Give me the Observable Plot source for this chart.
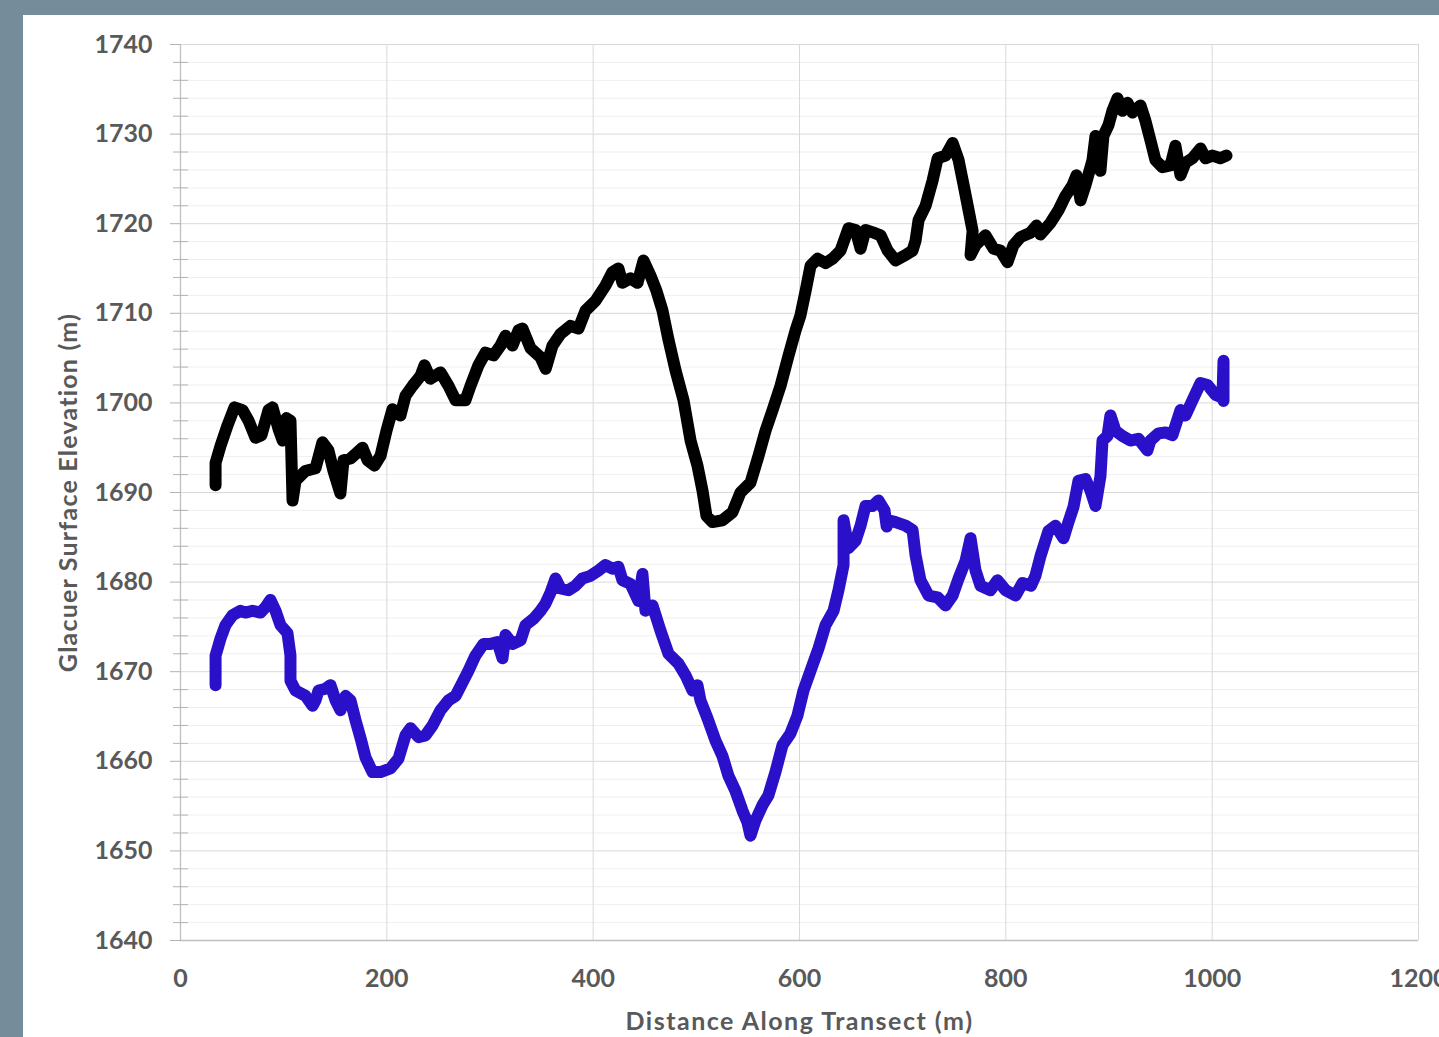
<!DOCTYPE html>
<html>
<head>
<meta charset="utf-8">
<script src="https://cdn.jsdelivr.net/npm/d3@7"></script>
<script src="https://cdn.jsdelivr.net/npm/@observablehq/plot@0.6"></script>
<style>
  html, body { margin: 0; padding: 0; width: 1439px; height: 1037px; overflow: hidden; background: #758d9a; }
  #panel { position: absolute; left: 23px; top: 15px; width: 1430px; height: 1040px; background: #ffffff; }
  #chart { position: absolute; left: 0; top: 0; }
</style>
</head>
<body>
<div id="panel"></div>
<div id="chart"></div>
<script>
// Upper profile (black): distance along transect (m) and surface elevation (m)
const upperDist = [34, 34, 38.8, 45.6, 52.3, 60.1, 66, 72.7, 78.5, 85.3, 89.2, 95, 99, 102.7, 106.6, 107.6, 108.6, 111.5, 121, 130.9,
  137.6, 143.4, 148.3, 155, 158, 164.8, 171.6, 176.4, 181.3, 188, 193.9, 199.7, 205.5, 213.2, 218.1, 224.9, 232.6, 236.5, 242.3, 252,
  259.8, 266.6, 276.2, 281.1, 288.8, 295.6, 303.4, 310.2, 315, 321.8, 327.6, 331.5, 339.3, 349, 354, 360.6, 368.4, 378, 385.8, 392.6,
  402.3, 412, 418.7, 424.5, 428.4, 436.2, 443, 448.8, 455.6, 461.4, 467.2, 473.1, 479.9, 487.6, 494.4, 501.1, 506, 509.8, 515.6, 525.3,
  535, 542.8, 552.5, 560.3, 567.1, 573.9, 581.6, 589.4, 596.2, 601, 605.9, 610.7, 617.5, 625.2, 632, 639.8, 647.5, 654.3, 659.2, 664,
  671.8, 678.6, 685.4, 693.1, 702.8, 709.6, 712.5, 715.4, 722.2, 729, 733.9, 741.6, 748.4, 754.2, 759.1, 763.9, 767.8, 765.8, 770.6, 780.3,
  788.1, 794.8, 801.6, 807.4, 814.2, 823.9, 829.7, 833.6, 843.3, 851, 857.8, 864.6, 868.5, 872.4, 877.2, 884, 886.9, 891.7, 894.6, 899.5,
  903.3, 908.2, 913, 917.9, 922.7, 930.5, 935.3, 940.2, 945, 951.8, 959.6, 964.4, 969.3, 974.1, 980.9, 988.7, 993.5, 1000.3, 1008, 1013.9];
const upperElev = [1690.8, 1693.3, 1695.2, 1697.5, 1699.5, 1699.2, 1698, 1696.1, 1696.4, 1699.2, 1699.5, 1697.1, 1695.8, 1698.3, 1698, 1693.6, 1689.1, 1691.3, 1692.4, 1692.7,
  1695.6, 1694.7, 1692.4, 1689.9, 1693.6, 1693.8, 1694.5, 1695.0, 1693.6, 1693.0, 1694.1, 1696.9, 1699.3, 1698.6, 1700.8, 1701.9, 1703.0, 1704.2, 1702.7, 1703.4,
  1701.9, 1700.3, 1700.3, 1701.9, 1704.2, 1705.6, 1705.3, 1706.4, 1707.5, 1706.4, 1708.1, 1708.3, 1706.1, 1705.1, 1703.8, 1706.4, 1707.7, 1708.6, 1708.3, 1710.3,
  1711.4, 1713.1, 1714.6, 1715.0, 1713.4, 1713.9, 1713.4, 1715.9, 1714.2, 1712.5, 1710.3, 1707.0, 1703.6, 1700.3, 1695.8, 1693.0, 1690.2, 1687.4, 1686.7, 1686.9,
  1687.8, 1690.0, 1691.1, 1694.1, 1696.9, 1699.2, 1701.9, 1705.3, 1708.1, 1709.8, 1712.5, 1715.3, 1716.1, 1715.6, 1716.1, 1717.0, 1719.5, 1719.3, 1717.2, 1719.3,
  1719.0, 1718.7, 1717.0, 1715.9, 1716.5, 1717.0, 1718.1, 1720.4, 1722.0, 1724.8, 1727.3, 1727.6, 1729.0, 1727.1, 1724.3, 1721.5, 1719.2, 1716.5, 1717.6, 1718.7,
  1717.2, 1717.0, 1715.7, 1717.6, 1718.5, 1719.0, 1719.8, 1718.8, 1720.1, 1721.5, 1723.1, 1724.3, 1725.4, 1722.6, 1724.3, 1727.1, 1729.8, 1725.9, 1729.8, 1731.0,
  1732.6, 1734.0, 1732.6, 1733.5, 1732.4, 1733.2, 1731.5, 1729.3, 1727.1, 1726.3, 1726.5, 1728.7, 1725.4, 1726.8, 1727.3, 1728.4, 1727.3, 1727.6, 1727.3, 1727.6];

// Lower profile (blue)
const lowerDist = [34, 34, 38.8, 43.6, 50.4, 58.2, 63, 69.8, 77.5, 82.4, 87.2, 92.1, 96.9, 103.7, 106.6, 106.6, 111.5, 121.2, 128, 130.9,
  133.8, 140.6, 145.4, 150.3, 155.1, 160, 164.8, 169.6, 175.2, 179.4, 186.1, 193.9, 203.5, 211.3, 218.1, 223, 230.7, 237.5, 244.3, 252,
  259.8, 266.6, 273.3, 279.1, 285.9, 293.7, 300.5, 307.3, 312.1, 315, 321.8, 329.6, 334.4, 342.2, 349, 353.8, 358.6, 363.5, 368.3, 376.1,
  382.9, 389.6, 397.4, 405.2, 411.9, 418.7, 424.5, 428.4, 436.2, 443.9, 447.8, 450.7, 457.5, 465.2, 473, 482.7, 489.5, 496.3, 501.1, 504,
  510.8, 518.6, 525.3, 531.1, 537.9, 544.7, 549.5, 552.5, 557.3, 564.1, 569.9, 576.7, 583.5, 591.2, 598, 603.9, 610.7, 618.4, 625.2, 633,
  637.8, 642.7, 642.7, 647.5, 654.3, 659.2, 664, 670.8, 676.6, 682.4, 684.5, 686.3, 693.1, 702.8, 709.6, 712.5, 717.3, 725.1, 733.8, 741.6,
  748.4, 754.2, 761, 765.8, 770.6, 775.4, 785.1, 791.9, 799.7, 809.4, 816.2, 824.4, 828.7, 833.6, 841.3, 848.1, 855.9, 860.7, 865.6, 870.4,
  877.2, 882.1, 886.9, 891.7, 893.7, 898.5, 901.4, 906.2, 913, 920.8, 928.5, 937.2, 940.2, 947.9, 954.7, 961.5, 969.3, 974.1, 980.9, 988.7,
  995.5, 1003.2, 1010, 1011, 1011];
const lowerElev = [1668.5, 1671.8, 1673.7, 1675.2, 1676.3, 1676.8, 1676.6, 1676.8, 1676.6, 1677.2, 1678.0, 1676.8, 1675.2, 1674.3, 1671.8, 1669.0, 1667.9, 1667.3, 1666.2, 1666.8,
  1667.9, 1668.1, 1668.5, 1666.8, 1665.7, 1667.3, 1666.8, 1664.6, 1662.3, 1660.4, 1658.8, 1658.8, 1659.2, 1660.3, 1662.9, 1663.7, 1662.7, 1662.9, 1664.0, 1665.7,
  1666.8, 1667.3, 1668.8, 1670.1, 1671.8, 1673.1, 1673.1, 1673.3, 1671.5, 1674.1, 1673.1, 1673.5, 1675.2, 1675.9, 1676.8, 1677.6, 1678.8, 1680.4, 1679.3, 1679.1,
  1679.6, 1680.4, 1680.7, 1681.3, 1681.9, 1681.5, 1681.7, 1680.2, 1679.8, 1677.9, 1680.9, 1676.8, 1677.4, 1674.6, 1672.0, 1670.9, 1669.6, 1667.9, 1668.5, 1666.8,
  1664.8, 1662.3, 1660.6, 1658.4, 1656.7, 1654.5, 1653.2, 1651.7, 1653.4, 1655.1, 1656.2, 1658.8, 1661.8, 1663.1, 1665.1, 1667.9, 1670.1, 1672.6, 1675.2, 1676.8,
  1679.1, 1681.9, 1686.9, 1683.8, 1684.6, 1686.3, 1688.5, 1688.5, 1689.1, 1688.0, 1686.2, 1686.9, 1686.7, 1686.3, 1685.8, 1683.0, 1680.2, 1678.5, 1678.3, 1677.4,
  1678.5, 1680.4, 1682.4, 1684.9, 1681.3, 1679.6, 1679.1, 1680.2, 1679.1, 1678.5, 1679.9, 1679.6, 1680.7, 1682.9, 1685.7, 1686.3, 1684.9, 1686.7, 1688.4, 1691.3,
  1691.5, 1690.2, 1688.5, 1691.8, 1695.8, 1696.3, 1698.6, 1696.9, 1696.3, 1695.8, 1696.0, 1694.7, 1695.8, 1696.6, 1696.7, 1696.4, 1699.2, 1698.6, 1700.3, 1702.2,
  1702.0, 1700.9, 1700.6, 1704.7, 1700.2];

// Axis ticks and titles
const xTicks = [0, 200, 400, 600, 800, 1000, 1200];
const yMajor = [1640, 1650, 1660, 1670, 1680, 1690, 1700, 1710, 1720, 1730, 1740];
const yMinor = d3.range(1640, 1741, 2).filter(v => v % 10 !== 0);
const xTitle = "Distance Along Transect (m)";
const yTitle = "Glacuer Surface Elevation (m)";

const upper = upperDist.map((d, i) => ({d, e: upperElev[i]}));
const lower = lowerDist.map((d, i) => ({d, e: lowerElev[i]}));

const textColor = "#595959";
const gridMajor = "#d9d9d9";
const gridMinor = "#efefef";

const chart = Plot.plot({
  width: 1439,
  height: 1037,
  marginLeft: 180,
  marginTop: 44,
  marginRight: 21,
  marginBottom: 97,
  style: {background: "transparent", fontFamily: "Lato, 'Open Sans', sans-serif", fontWeight: "bold", fontSize: "25px", color: textColor, overflow: "visible"},
  x: {domain: [0, 1200]},
  y: {domain: [1640, 1740]},
  marks: [
    Plot.ruleY(yMinor, {stroke: gridMinor, strokeWidth: 1}),
    Plot.ruleY(yMajor, {stroke: gridMajor, strokeWidth: 1}),
    Plot.ruleX(xTicks.slice(1), {stroke: gridMajor, strokeWidth: 1}),
    Plot.ruleX([0], {stroke: "#bfbfbf", strokeWidth: 1.3}),
    Plot.ruleY([1640], {stroke: "#bfbfbf", strokeWidth: 1.3}),
    Plot.axisY({ticks: yMinor, tickSize: 15, dx: 8, text: null, stroke: "#b3b3b3", label: null}),
    Plot.axisY({ticks: yMajor, tickSize: 10, tickPadding: 18, stroke: "#b3b3b3", fill: textColor, tickFormat: d => String(d), label: null}),
    Plot.axisX({ticks: xTicks, tickSize: 0, tickPadding: 29, fill: textColor, tickFormat: d => String(d), label: null}),
    Plot.text([yTitle], {frameAnchor: "left", dx: -112, rotate: -90, textAnchor: "middle", lineAnchor: "middle", fill: textColor,
      fontSize: 25, fontWeight: "bold"}),
    Plot.text([xTitle], {frameAnchor: "bottom", dy: 81, textAnchor: "middle", lineAnchor: "middle", fill: textColor,
      fontSize: 25, fontWeight: "bold"}),
    Plot.line(lower, {x: "d", y: "e", stroke: "#2a10c8", strokeWidth: 12, strokeLinejoin: "round", strokeLinecap: "round"}),
    Plot.line(upper, {x: "d", y: "e", stroke: "#000000", strokeWidth: 12, strokeLinejoin: "round", strokeLinecap: "round"})
  ]
});

// Wider tracking on the two axis titles
d3.select(chart).selectAll("text")
  .filter(function() { return this.textContent === xTitle; })
  .style("letter-spacing", "1.5px");
d3.select(chart).selectAll("text")
  .filter(function() { return this.textContent === yTitle; })
  .style("letter-spacing", "1.2px");

document.getElementById("chart").appendChild(chart);
</script>
</body>
</html>
